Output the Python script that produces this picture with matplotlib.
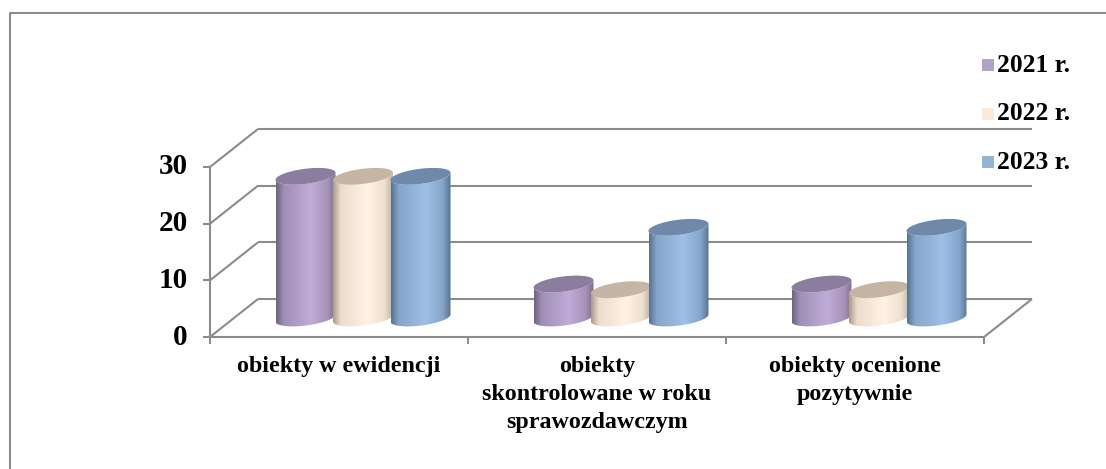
import numpy as np
import matplotlib
matplotlib.use('Agg')
import matplotlib.pyplot as plt
from matplotlib.colors import LinearSegmentedColormap
from matplotlib.lines import Line2D
from matplotlib.patches import PathPatch, Polygon, Rectangle
from matplotlib.path import Path

plt.rcParams['font.family'] = 'Liberation Serif'
plt.rcParams['font.weight'] = 'bold'

categories = ['obiekty w ewidencji',
              'obiekty\nskontrolowane w roku\nsprawozdawczym',
              'obiekty ocenione\npozytywnie']
years = ['2021 r.', '2022 r.', '2023 r.']
values_2021 = [25, 6, 6]
values_2022 = [25, 5, 5]
values_2023 = [25, 16, 16]
y_ticks = [0, 10, 20, 30]

legend_colors = ['#b3a2c7', '#fde9d9', '#95b3d7']
top_colors = ['#8b7d9f', '#c6b5a5', '#7089aa']
body_stops = [
    ['#6f6182', '#a08fb4', '#c1acd9', '#a593b8', '#7b6c8e'],
    ['#a89a8a', '#ecdccb', '#fff3e6', '#efdfce', '#bfb09f'],
    ['#55728f', '#86a5ca', '#9fbfe6', '#86a5ca', '#56728f'],
]
grid_color = '#8c8c8c'

W, H = 1106, 469
fig = plt.figure(figsize=(W / 100, H / 100), dpi=100)
# axes = front plane of the 3d box, everything else hangs off its scale
x0, x1, y_bottom, y_top = 210, 984, 337, 167
ax = fig.add_axes([x0 / W, 1 - y_bottom / H, (x1 - x0) / W, (y_bottom - y_top) / H])
ax.set_xlim(0, 3)
ax.set_ylim(0, 30)
ax.axis('off')

ux = (x1 - x0) / 3    # px per category
uy = (y_bottom - y_top) / 30    # px per unit
depth_x = 48 / ux
depth_y = 38 / uy


def line(xs, ys):
    ax.plot(xs, ys, color=grid_color, lw=1.5, clip_on=False, solid_capstyle='butt', zorder=1)


# walls and floor
for v in y_ticks:
    line([0, depth_x], [v, v + depth_y])
    line([depth_x, 3 + depth_x], [v + depth_y, v + depth_y])
    line([-7 / ux, 0], [v, v])
line([0, 0], [0, 30])
line([3, 3 + depth_x], [0, depth_y])
line([0, 3], [0, 0])
for i in range(4):
    line([i, i], [0, -7 / uy])

cmaps = [LinearSegmentedColormap.from_list('c%d' % i, list(zip([0, 0.13, 0.58, 0.86, 1], s)))
         for i, s in enumerate(body_stops)]
grad = np.linspace(0, 1, 256).reshape(1, -1)

half_w = 30 / ux
b_px = 7.6
slant_px = 3.6
t = np.linspace(0, 2 * np.pi, 90)
t_front = np.linspace(np.pi, 2 * np.pi, 45)    # left -> front -> right


def ellipse(cx, cy, tt):
    xs = cx + half_w * np.cos(tt)
    ys = cy + (b_px * np.sin(tt) + slant_px * np.cos(tt)) / uy
    return np.column_stack([xs, ys])


spacing = 57.5 / ux
base = depth_y / 2
series = [values_2021, values_2022, values_2023]
for c in range(len(categories)):
    center = c + 0.5 + depth_x / 2
    for s, vals in enumerate(series):
        cx = center + (s - 1) * spacing
        v = vals[c]
        top = base + v
        # body = front of base ellipse + front of top ellipse reversed
        pts = np.vstack([ellipse(cx, base, t_front), ellipse(cx, top, t_front)[::-1]])
        pts = np.vstack([pts, pts[0]])
        body = Path(pts)
        patch = PathPatch(body, fc='none', ec='none', transform=ax.transData)
        ax.add_patch(patch)
        im = ax.imshow(grad, cmap=cmaps[s], aspect='auto', zorder=3 + s * 0.1 + c,
                       extent=[cx - half_w, cx + half_w, base - 3, top + 3], clip_on=True)
        im.set_clip_path(patch)
        ax.add_patch(Polygon(ellipse(cx, top, t), closed=True, fc=top_colors[s], ec='none',
                             zorder=3.05 + s * 0.1 + c, clip_on=False))

ax.set_xlim(0, 3)
ax.set_ylim(0, 30)

# y labels
for v in y_ticks:
    ax.text(-22 / ux, v, str(v), ha='right', va='center', fontsize=21, clip_on=False)

# category labels
for i, cat in enumerate(categories):
    ax.text(i + 0.5, -19 / uy, cat, ha='center', va='top', fontsize=17.25,
            linespacing=1.44, clip_on=False)

# legend
legend_y = [65, 114, 162]
for lab, col, ly in zip(years, legend_colors, legend_y):
    fig.add_artist(Rectangle((982 / W, 1 - (ly + 6) / H), 12 / W, 12 / H, fc=col, ec='none',
                             transform=fig.transFigure))
    fig.text(997 / W, 1 - ly / H, lab, ha='left', va='center', fontsize=18.4)

# outer frame: only top and left are visible
fig.add_artist(Line2D([10 / W, 10 / W, 1], [0, 1 - 13 / H, 1 - 13 / H], color='#8c8c8c', lw=1.5,
                      transform=fig.transFigure))

fig.savefig('out.png', dpi=100)
